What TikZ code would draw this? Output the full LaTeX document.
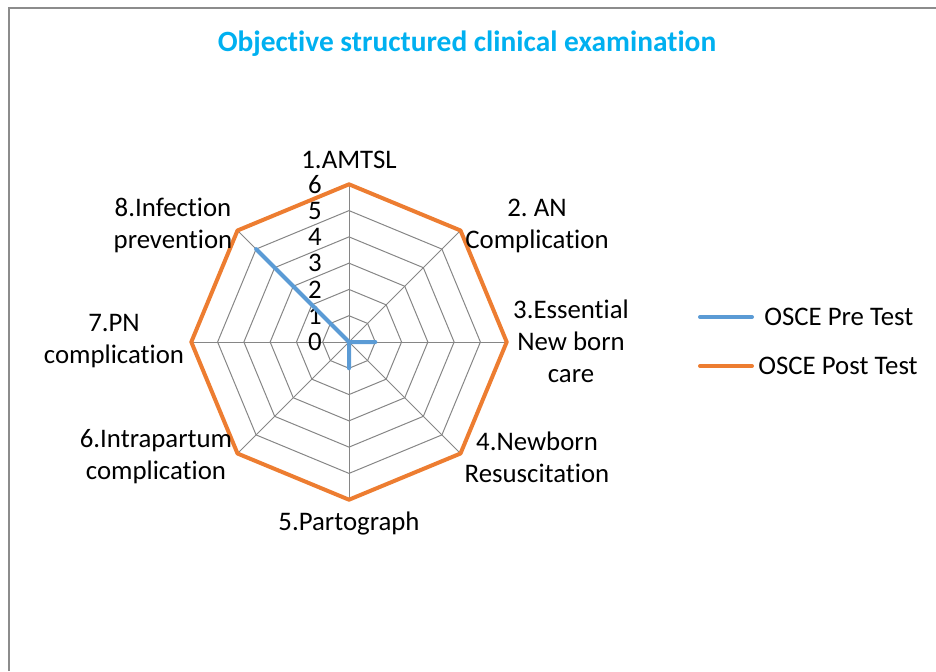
\documentclass[tikz,border=0pt]{standalone}
\usepackage{fontspec}
\setmainfont{Carlito}[Ligatures={NoCommon}]
\definecolor{preblue}{HTML}{5B9BD5}
\definecolor{postorange}{HTML}{ED7D31}
\definecolor{titleblue}{HTML}{00B0F0}
\definecolor{gridgray}{HTML}{868686}

\begin{document}
\frenchspacing
\begin{tikzpicture}[x=0.5pt,y=0.5pt,
  grid/.style={gridgray,line width=0.5pt},
  series/.style={line width=2pt,line join=round},
  lbl/.style={font=\fontsize{13.4}{16}\selectfont,align=center,inner sep=0pt},
  tick/.style={font=\fontsize{13.4}{16}\selectfont,anchor=east,inner sep=0pt}]
\useasboundingbox (0,0) rectangle (936,671);
\draw[gray!90,line width=1pt] (9,0) -- (9,662.5) -- (936,662.5);
\node[font=\fontsize{14.7}{17}\selectfont\bfseries,text=titleblue] (title) at (467,627) {Objective structured clinical examination};

\begin{scope}[shift={(349,329)}]
% rings and spokes
\foreach \r in {1,...,5}
  \draw[grid] (90:\r*26.28) \foreach \k in {1,...,7} { -- (90-45*\k:\r*26.28) } -- cycle;
\foreach \k in {0,...,7}
  \draw[grid] (0,0) -- (90-45*\k:157.7);
% tick labels
\foreach \r in {0,...,6}
  \node[tick] (t\r) at (-27,\r*26.28) {\r};
% post test
\draw[series,postorange] (90:157.7) \foreach \k in {1,...,7} { -- (90-45*\k:157.7) } -- cycle;
% pre test
\draw[series,preblue] (90:0) -- (45:0) -- (0:26.28) -- (-45:0) -- (-90:26.28)
  -- (-135:0) -- (180:0) -- (135:131.4) -- cycle;
% axis labels
\node[lbl] (amtsl) at (0,182) {1.AMTSL};
\node[lbl] (an) at (188,116.5) {2. AN\\Complication};
\node[lbl] (ebc) at (222,0.5) {3.Essential\\New born\\care};
\node[lbl] (nbr) at (188,-115) {4.Newborn\\Resuscitation};
\node[lbl] (parto) at (0,-181) {5.Partograph};
\node[lbl] (intra) at (-193,-115) {6.Intrapartum\\complication};
\node[lbl] (pn) at (-235,1) {7.PN\\complication};
\node[lbl] (infec) at (-176,117) {8.Infection\\prevention};
\end{scope}

% legend
\coordinate (preA) at (700,354);
\coordinate (preB) at (752,354);
\coordinate (postA) at (700,305);
\coordinate (postB) at (752,305);
\draw[series,preblue,line cap=round] (preA) -- (preB);
\draw[series,postorange,line cap=round] (postA) -- (postB);
\node[lbl,anchor=west] (prelbl) at (764,354) {OSCE Pre Test};
\node[lbl,anchor=west] (postlbl) at (758,305) {OSCE Post Test};
\end{tikzpicture}
\end{document}
